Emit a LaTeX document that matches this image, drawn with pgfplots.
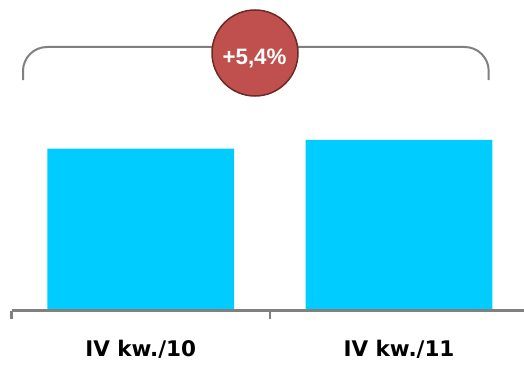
\documentclass[border=0pt]{standalone}
\usepackage{pgfplots}
\pgfplotsset{compat=1.18}
\usepackage{fontspec}
\setmainfont{DejaVu Sans}
\newfontfamily\libsans{Liberation Sans}
\definecolor{barcyan}{RGB}{0,204,255}
\definecolor{axgray}{RGB}{128,128,128}
\definecolor{circred}{RGB}{192,80,77}
\definecolor{circborder}{RGB}{110,40,38}
\begin{document}
\begin{tikzpicture}
\useasboundingbox (0pt,0pt) rectangle (524pt,365pt);
\begin{axis}[
  at={(11.55pt,54.5pt)}, anchor=south west,
  x=258.3pt, y=1.618pt,
  xmin=-0.5, xmax=1.484, ymin=0, ymax=190,
  axis x line=bottom, axis y line=none,
  axis line style={-, axgray, line width=3pt},
  axis on top,
  xtick={0,1},
  xticklabels={IV kw./10, IV kw./11},
  major tick length=0pt,
  minor xtick={-0.5,0.5},
  minor tick length=8pt,
  tick align=outside,
  minor tick style={axgray, line width=2.3pt},
  xticklabel style={font=\fontsize{21.5}{24}\selectfont\bfseries, anchor=base, yshift=-46pt},
  ytick=\empty,
  clip=false,
]
\addplot[ybar, fill=barcyan, draw=none, bar width=0.7228] coordinates {(0,100) (1,105.4)};
\end{axis}
\draw[axgray, line width=2pt, rounded corners=24pt] (23pt,285pt) -- (23pt,318pt) -- (488.7pt,318pt) -- (488.7pt,285pt);
\draw[fill=circred, draw=circborder, line width=1.5pt] (255pt,312pt) circle (43pt);
\node[anchor=base, text=white, inner sep=0pt, font=\libsans\bfseries\fontsize{22.3}{24}\selectfont] at (254.5pt,300.7pt) {+5,4\%};
\end{tikzpicture}
\end{document}
